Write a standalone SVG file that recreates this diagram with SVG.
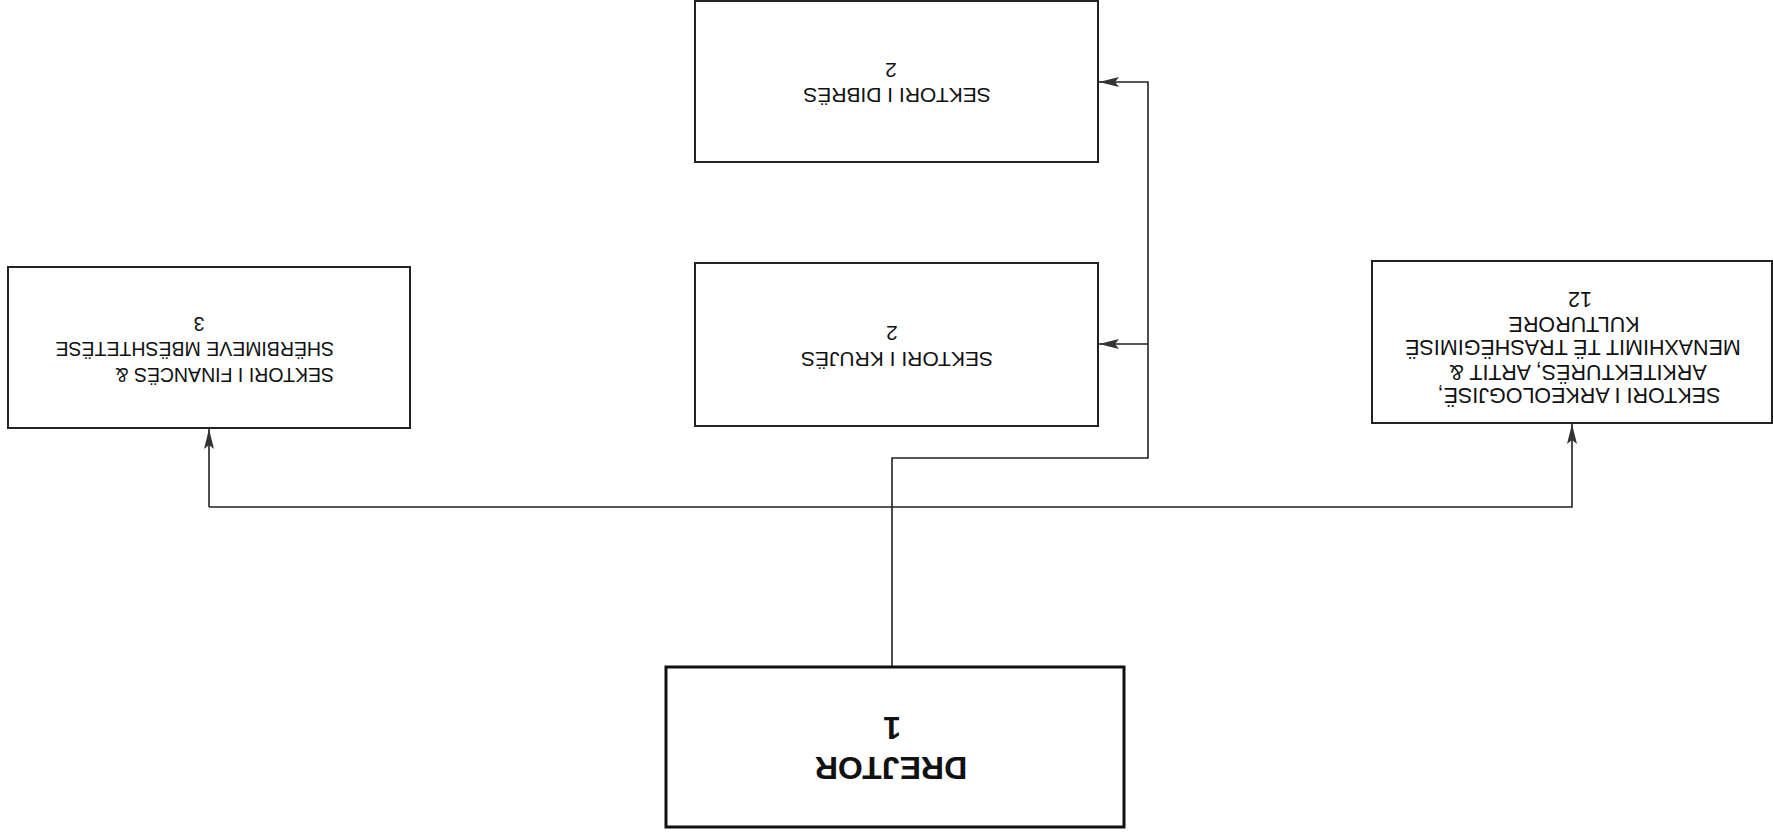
<svg xmlns="http://www.w3.org/2000/svg" width="1773" height="836" viewBox="0 0 1773 836">
<defs>
<style>
.box{fill:#fff;stroke:#222;stroke-width:2}
.boxb{fill:#fff;stroke:#111;stroke-width:3}
.t{font-family:"Liberation Sans",Arial,sans-serif;font-size:21px;fill:#111;text-anchor:middle}
.tf{font-family:"Liberation Sans",Arial,sans-serif;font-size:19.5px;fill:#111;text-anchor:start}
.ta{font-family:"Liberation Sans",Arial,sans-serif;font-size:21.5px;fill:#111;text-anchor:middle}
.tb{font-family:"Liberation Sans",Arial,sans-serif;font-size:32px;font-weight:bold;fill:#111;text-anchor:middle}
.c{fill:none;stroke:#222;stroke-width:1.6}
</style>
<marker id="ah" viewBox="0 0 20 10" refX="20" refY="5" markerWidth="20" markerHeight="10" markerUnits="userSpaceOnUse" orient="auto">
<path d="M0,0 L20,5 L0,10 L4,5 Z" fill="#333"/>
</marker>
</defs>
<rect width="1773" height="836" fill="#fff"/>
<g id="connectors">
<path class="c" d="M892,667 L892,458 L1148,458 L1148,82 L1099,82" marker-end="url(#ah)"/>
<path class="c" d="M1148,344 L1099,344" marker-end="url(#ah)"/>
<path class="c" d="M209,507 L1572,507 L1572,424" marker-end="url(#ah)"/>
<path class="c" d="M209,507 L209,429" marker-end="url(#ah)"/>
</g>
<g id="dibres">
<rect class="box" x="695" y="1" width="403" height="161"/>
<text class="t" x="897" y="88" transform="rotate(180 897 88)">SEKTORI I DIBRËS</text>
<text class="t" x="891" y="63" transform="rotate(180 891 63)">2</text>
</g>
<g id="krujes">
<rect class="box" x="695" y="263" width="403" height="163"/>
<text class="t" x="897" y="352" transform="rotate(180 897 352)">SEKTORI I KRUJËS</text>
<text class="t" x="892" y="326" transform="rotate(180 892 326)">2</text>
</g>
<g id="finance">
<rect class="box" x="8" y="267" width="402" height="161"/>
<text class="tf" x="334" y="368" transform="rotate(180 334 368)">SEKTORI I FINANCËS &amp;</text>
<text class="tf" x="334" y="342" transform="rotate(180 334 342)">SHËRBIMEVE MBËSHTETËSE</text>
<text class="t" x="199" y="317" transform="rotate(180 199 317)" style="font-size:19.5px">3</text>
</g>
<g id="arkeologji">
<rect class="box" x="1372" y="261" width="400" height="162"/>
<text class="ta" x="1579" y="388" transform="rotate(180 1579 388)">SEKTORI I ARKEOLOGJISË,</text>
<text class="ta" x="1578" y="365" transform="rotate(180 1578 365)">ARKITEKTURËS, ARTIT &amp;</text>
<text class="ta" x="1573" y="340" transform="rotate(180 1573 340)">MENAXHIMIT TË TRASHËGIMISË</text>
<text class="ta" x="1574" y="317" transform="rotate(180 1574 317)">KULTURORE</text>
<text class="ta" x="1580" y="292" transform="rotate(180 1580 292)">12</text>
</g>
<g id="drejtor">
<rect class="boxb" x="666" y="667" width="458" height="160"/>
<text class="tb" x="891" y="757" transform="rotate(180 891 757)">DREJTOR</text>
<text class="tb" x="892" y="717" transform="rotate(180 892 717)">1</text>
</g>
</svg>
